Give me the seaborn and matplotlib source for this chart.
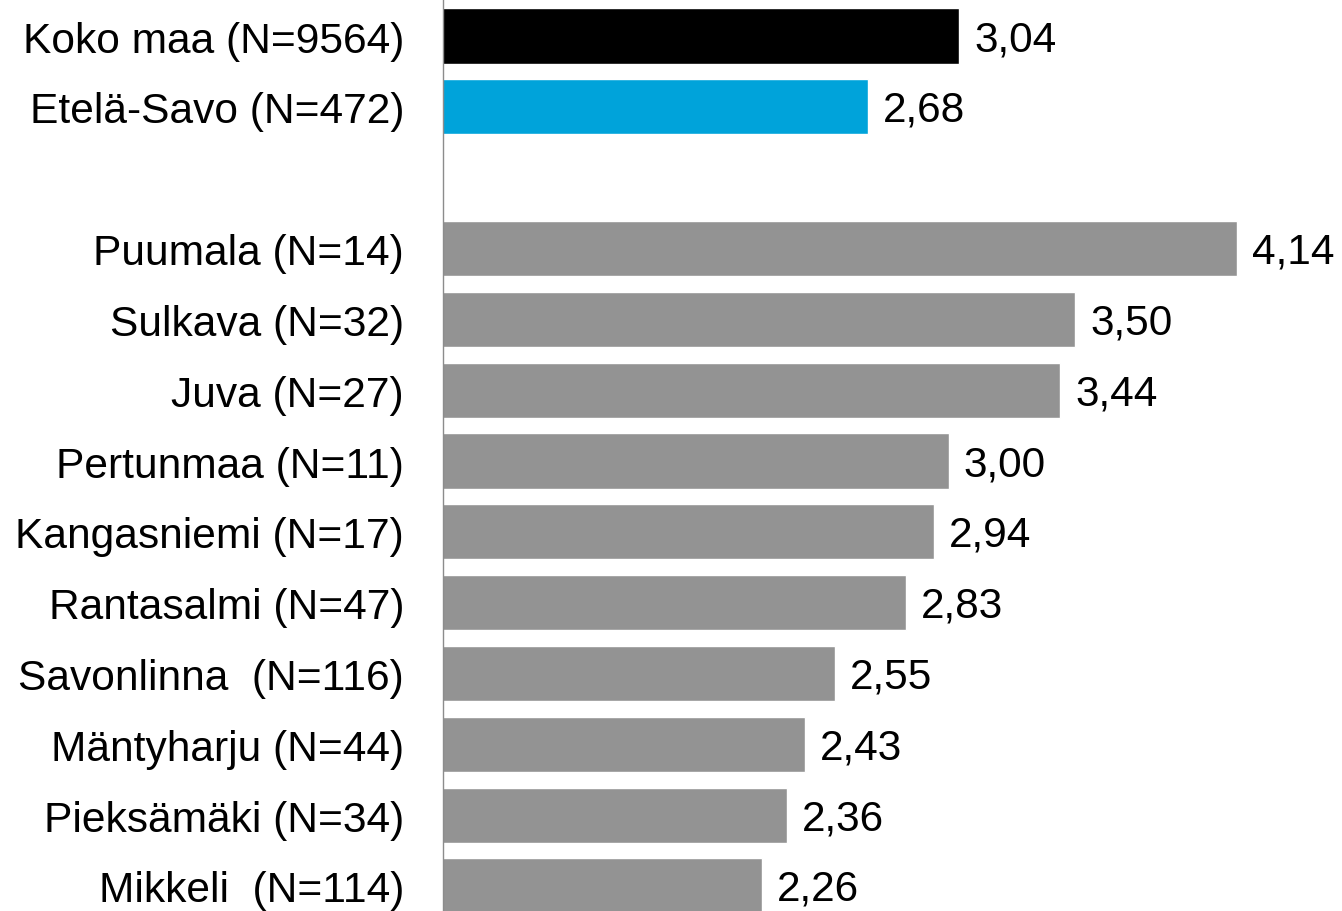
import matplotlib
matplotlib.use("Agg")
import matplotlib.pyplot as plt
import numpy as np
import pandas as pd
import seaborn as sns

# ---------------------------------------------------------------------
# Data
# ---------------------------------------------------------------------
labels = [
    "Koko maa (N=9564)",
    "Etelä-Savo (N=472)",
    " ",
    "Puumala (N=14)",
    "Sulkava (N=32)",
    "Juva (N=27)",
    "Pertunmaa (N=11)",
    "Kangasniemi (N=17)",
    "Rantasalmi (N=47)",
    "Savonlinna  (N=116)",
    "Mäntyharju (N=44)",
    "Pieksämäki (N=34)",
    "Mikkeli  (N=114)",
]
values = [3.04, 2.68, np.nan, 4.14, 3.50, 3.44, 3.00, 2.94, 2.83, 2.55, 2.43, 2.36, 2.26]
groups = ["maa", "maakunta", "tyhja"] + ["kunta"] * 10

group_colors = {"maa": "#000000", "maakunta": "#00A3DA", "tyhja": "#FFFFFF", "kunta": "#939393"}


def main() -> None:
    sns.set_theme(style="white")
    plt.rcParams["font.family"] = ["Liberation Sans", "DejaVu Sans"]

    df = pd.DataFrame({"label": labels, "value": values, "group": groups})

    fig = plt.figure(figsize=(13.42, 9.12), dpi=100)
    ax = fig.add_axes([443 / 1342, 0.0, 1 - 443 / 1342, 1.0])

    sns.barplot(
        data=df.dropna(),
        x="value",
        y="label",
        hue="group",
        palette=group_colors,
        order=labels,
        orient="h",
        width=0.78,
        saturation=1,
        dodge=False,
        legend=False,
        ax=ax,
    )

    ax.set_xlim(1.0, 4.554)
    ax.set_ylim(12.353, -0.523)

    for i, v in enumerate(values):
        if np.isnan(v):
            continue
        ax.annotate(
            f"{v:.2f}".replace(".", ","),
            xy=(v, i),
            xytext=(15, -3),
            textcoords="offset pixels",
            ha="left",
            va="center",
            fontsize=30.5,
            color="black",
            annotation_clip=False,
        )

    ax.set_xlabel("")
    ax.set_ylabel("")
    ax.set_xticks([])
    ax.tick_params(axis="y", length=0, pad=28, labelsize=30.6, labelcolor="black")

    for side in ["top", "right", "bottom"]:
        ax.spines[side].set_visible(False)
    ax.spines["left"].set_color("#8C8C8C")
    ax.spines["left"].set_linewidth(1.0)

    fig.savefig("out.png", dpi=100)


if __name__ == "__main__":
    main()
